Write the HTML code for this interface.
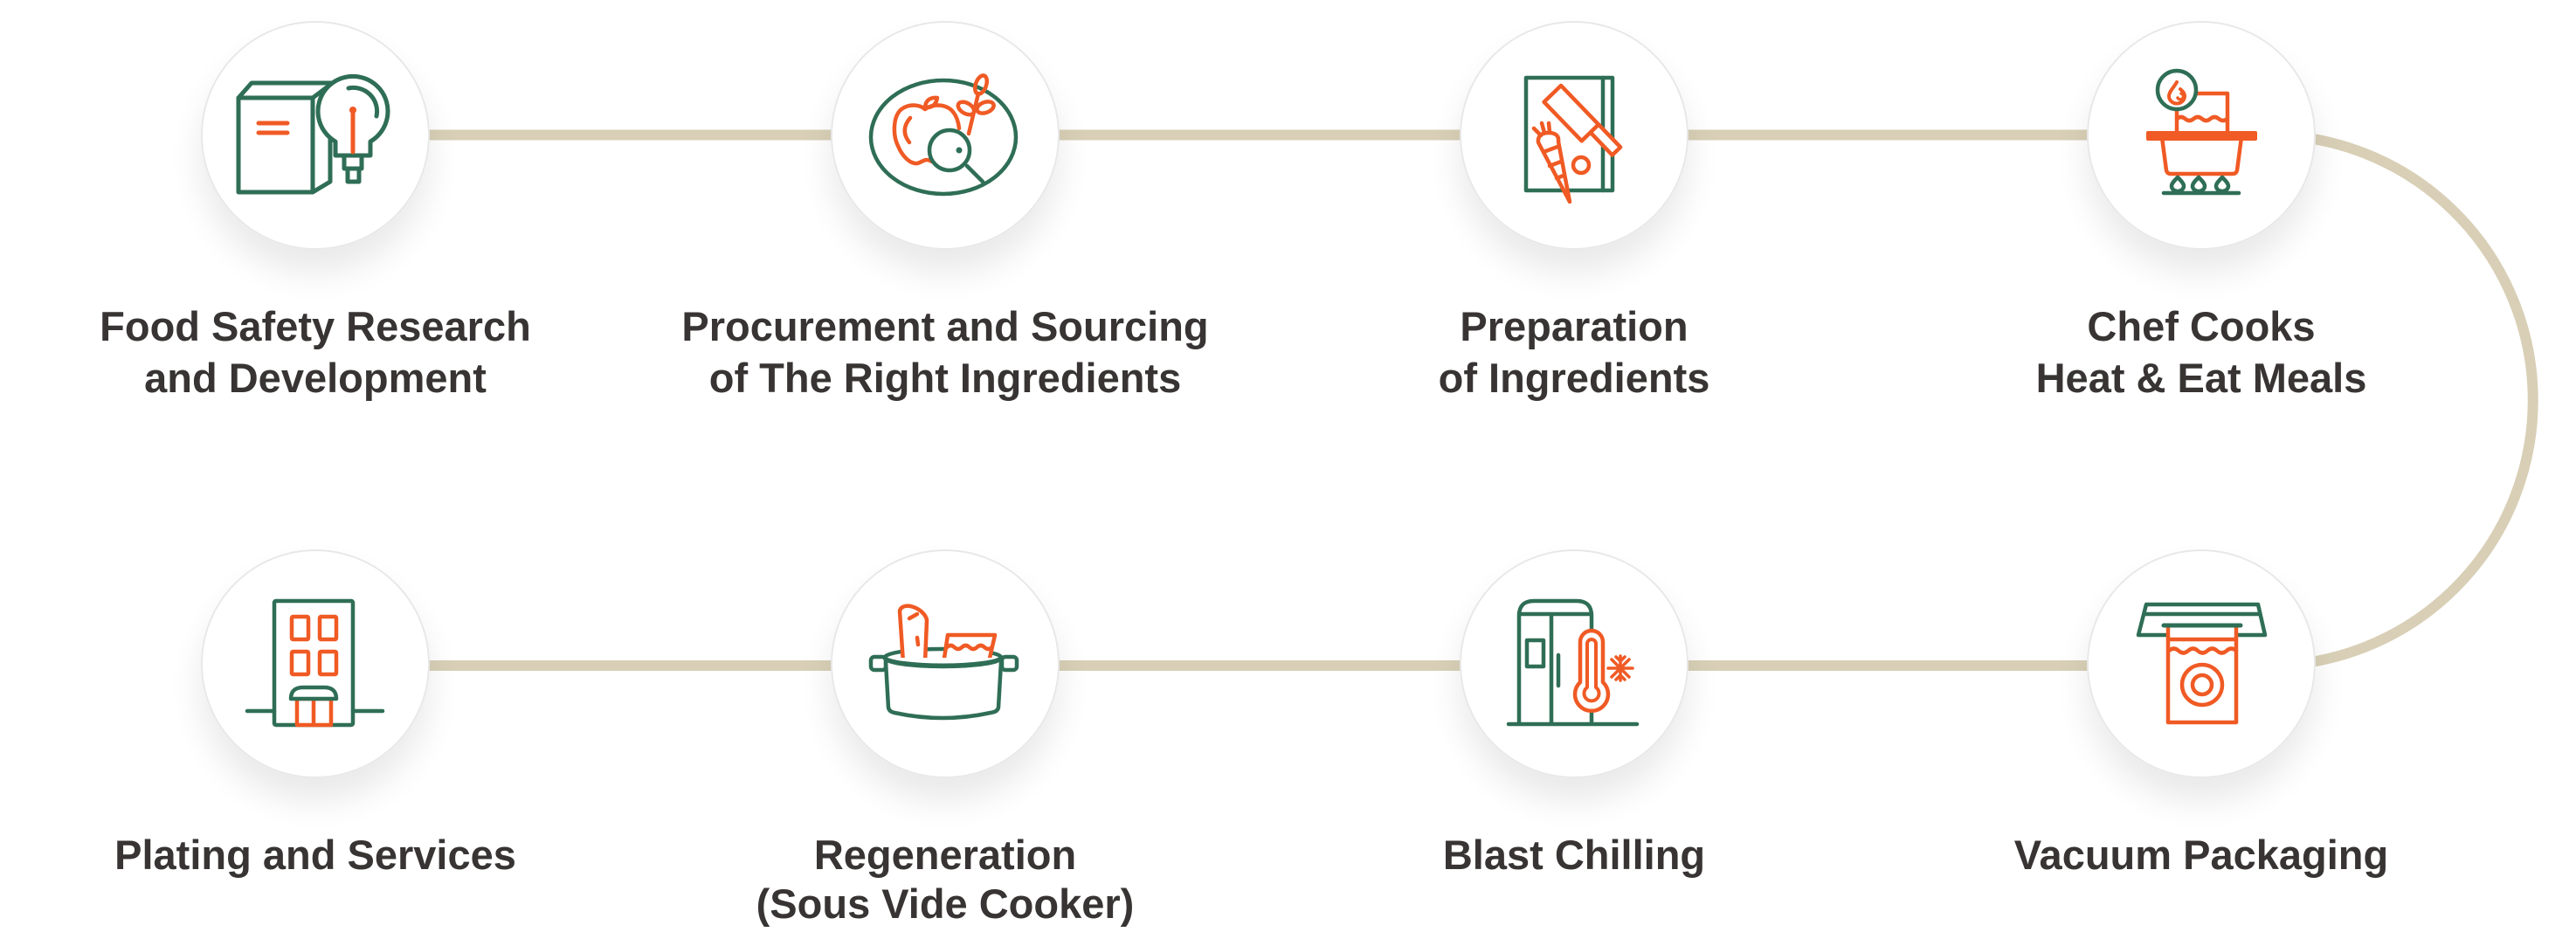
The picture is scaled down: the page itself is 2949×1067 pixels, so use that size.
<!DOCTYPE html>
<html>
<head>
<meta charset="utf-8">
<style>
  html,body{margin:0;padding:0;background:#fff;}
  body{width:2949px;height:1067px;overflow:hidden;}
  svg{display:block;}
  .lbl{font-family:"Liberation Sans",Arial,sans-serif;font-weight:bold;font-size:47px;fill:#383434;}
</style>
</head>
<body>
<svg width="2949" height="1067" viewBox="0 0 2949 1067" xmlns="http://www.w3.org/2000/svg">
  <defs>
    <filter id="sh" x="-60%" y="-60%" width="220%" height="230%">
      <feGaussianBlur in="SourceAlpha" stdDeviation="20"/>
      <feOffset dy="26" result="o"/>
      <feComponentTransfer><feFuncA type="linear" slope="0.09"/></feComponentTransfer>
      <feMerge><feMergeNode/><feMergeNode in="SourceGraphic"/></feMerge>
    </filter>
  </defs>

  <!-- connector -->
  <path d="M361,154.5 H2596 A303.75,303.75 0 0 1 2596,762 H361" fill="none" stroke="#d8cfb6" stroke-width="12"/>

  <!-- circles -->
  <g fill="#fff" stroke="#e8e8e8" stroke-width="2" filter="url(#sh)">
    <circle cx="361" cy="155" r="130"/>
    <circle cx="1082" cy="155" r="130"/>
    <circle cx="1802" cy="155" r="130"/>
    <circle cx="2520" cy="155" r="130"/>
    <circle cx="361" cy="760" r="130"/>
    <circle cx="1082" cy="760" r="130"/>
    <circle cx="1802" cy="760" r="130"/>
    <circle cx="2520" cy="760" r="130"/>
  </g>

  <!-- Icon 1: Food Safety R&D -->
  <g transform="translate(241,35)" fill="none" stroke-linecap="round" stroke-linejoin="round" stroke-width="5">
    <path d="M32,77 L47,60 H140 M117,77 L137,62 M137,120 V173 L117,185" stroke="#2f6e56"/>
    <rect x="32" y="77" width="85" height="108" stroke="#2f6e56"/>
    <path d="M143,143 V127 A40,40 0 1 1 183,127 V143 Z" fill="#fff" stroke="#2f6e56"/>
    <path d="M158,66 A27,27 0 0 1 190,98" stroke="#2f6e56"/>
    <rect x="153" y="143" width="20" height="15" stroke="#2f6e56"/>
    <rect x="157" y="158" width="13" height="15" stroke="#2f6e56"/>
    <path d="M55,106 H88 M55,117 H88 M163,92 V139" stroke="#f05a24"/>
    <circle cx="163" cy="91" r="4" fill="#f05a24" stroke="none"/>
  </g>

  <!-- Icon 2: Procurement -->
  <g transform="translate(962,35)" fill="none" stroke-linecap="round" stroke-linejoin="round" stroke-width="4.5">
    <ellipse cx="118" cy="122" rx="83" ry="65" stroke="#2f6e56"/>
    <path d="M97,90 C90,84 78,84 70,90 C60,98 60,120 66,132 C71,144 80,153 88,152 C93,151 95,148 99,148 C103,148 106,152 110,150" stroke="#f05a24"/>
    <path d="M97,90 C105,84 118,84 126,90 C132,95 135,103 136,112" stroke="#f05a24"/>
    <path d="M80,100 Q68,114 79,128" stroke="#f05a24"/>
    <path d="M97,88 Q98,76 111,77 Q109,89 97,88 Z" stroke="#f05a24"/>
    <path d="M147,118 L158,72" stroke="#f05a24"/>
    <ellipse cx="0" cy="0" rx="6" ry="11" transform="translate(161,62) rotate(20)" stroke="#f05a24"/>
    <ellipse cx="0" cy="0" rx="10" ry="6" transform="translate(144,89) rotate(30)" stroke="#f05a24"/>
    <ellipse cx="0" cy="0" rx="10" ry="6" transform="translate(166,88) rotate(-20)" stroke="#f05a24"/>
    <circle cx="125" cy="137" r="23" fill="#fff" stroke="#2f6e56"/>
    <path d="M145,155 L163,173" stroke="#2f6e56"/>
    <circle cx="136" cy="137" r="3.5" fill="#2f6e56" stroke="none"/>
  </g>

  <!-- Icon 3: Preparation -->
  <g transform="translate(1682,35)" fill="none" stroke-linecap="round" stroke-linejoin="round" stroke-width="4.5">
    <rect x="65" y="54" width="99" height="129" stroke="#2f6e56"/>
    <path d="M153,54 V183" stroke="#2f6e56"/>
    <g transform="translate(105,63) rotate(46)">
      <path d="M0,0 H62 V27 H0 Z" fill="#fff" stroke="#f05a24"/>
      <rect x="62" y="0" width="36" height="13" fill="#fff" stroke="#f05a24"/>
    </g>
    <path d="M79,128 C78,120 84,117 91,117 C98,117 103,120 102,127 L115,196 Z" fill="#fff" stroke="#f05a24"/>
    <path d="M85,139 L101,133 M92,155 L105,150 M100,169 L108,166 M74,112 L82,120 M83,106 L86,117 M91,106 L92,116" stroke="#f05a24"/>
    <circle cx="128" cy="154" r="9" stroke="#f05a24"/>
  </g>

  <!-- Icon 4: Chef Cooks -->
  <g transform="translate(2400,35)" fill="none" stroke-linecap="round" stroke-linejoin="round" stroke-width="4.5">
    <path d="M108,72 H150 V115 M92,88 V115" stroke="#f05a24"/>
    <path d="M92,101 q4.8,-4 9.6,0 t9.6,0 t9.6,0 t9.6,0 t9.6,0 t9.6,0" stroke="#f05a24"/>
    <rect x="57" y="115" width="127" height="11" rx="2" fill="#f05a24" stroke="none"/>
    <path d="M75,122 L80,160 Q81,164 85,164 H156 Q160,164 161,160 L166,122" stroke="#f05a24"/>
    <circle cx="92" cy="68" r="22" fill="#fff" stroke="#2f6e56"/>
    <path d="M92,59 C88,66 83,70 83,75 A9,8.5 0 0 0 101,75 C101,71 98,69 96,67" stroke="#f05a24" stroke-width="4"/>
    <path d="M93,77 a3.5,3.5 0 1 0 4,-5" stroke="#f05a24" stroke-width="3.5"/>
    <g stroke="#2f6e56">
      <path d="M93,168 C89,172 86,175 86,178 A7,6 0 0 0 100,178 C100,175 97,172 93,168 Z"/>
      <path d="M117,168 C113,172 110,175 110,178 A7,6 0 0 0 124,178 C124,175 121,172 117,168 Z"/>
      <path d="M144,168 C140,172 137,175 137,178 A7,6 0 0 0 151,178 C151,175 148,172 144,168 Z"/>
      <path d="M77,186 H163"/>
    </g>
  </g>

  <!-- Icon 5: Plating -->
  <g transform="translate(241,640)" fill="none" stroke-linecap="round" stroke-linejoin="round" stroke-width="4.5">
    <path d="M42,174 H73 M163,174 H197" stroke="#2f6e56"/>
    <rect x="73" y="48" width="90" height="142" rx="2" stroke="#2f6e56"/>
    <rect x="93" y="66" width="19" height="26" rx="1.5" stroke="#f05a24"/>
    <rect x="125" y="66" width="19" height="26" rx="1.5" stroke="#f05a24"/>
    <rect x="93" y="106" width="19" height="26" rx="1.5" stroke="#f05a24"/>
    <rect x="125" y="106" width="19" height="26" rx="1.5" stroke="#f05a24"/>
    <rect x="99" y="160" width="39" height="30" fill="#fff" stroke="#f05a24"/>
    <path d="M118,160 V190" stroke="#f05a24"/>
    <path d="M92,160 Q92,147 106,147 H130 Q144,147 144,160 Z" fill="#fff" stroke="#2f6e56"/>
  </g>

  <!-- Icon 6: Regeneration -->
  <g transform="translate(962,640)" fill="none" stroke-linecap="round" stroke-linejoin="round" stroke-width="4.5">
    <rect x="35" y="112" width="17" height="15" rx="4" stroke="#2f6e56"/>
    <rect x="185" y="112" width="17" height="15" rx="4" stroke="#2f6e56"/>
    <ellipse cx="117.5" cy="113" rx="67" ry="10" stroke="#2f6e56"/>
    <path d="M72,119 L68,60 A17,10 30 0 1 99,70 L97,119" fill="#fff" stroke="#f05a24"/>
    <path d="M79,68 L88,63 M88,90 L89,98" stroke="#f05a24"/>
    <path d="M118,120 L123,87 H177 L170,118" fill="#fff" stroke="#f05a24"/>
    <path d="M122,101 q4.3,-4 8.6,0 t8.6,0 t8.6,0 t8.6,0 t8.6,0 t8.6,0" stroke="#f05a24"/>
    <path d="M51,113 A67,10 0 0 0 184,113" fill="#fff" stroke="#2f6e56"/>
    <path d="M52,118 L55,170 Q56,175 62,176 Q117,188 172,176 Q180,175 181,170 L184,118" stroke="#2f6e56"/>
  </g>

  <!-- Icon 7: Blast Chilling -->
  <g transform="translate(1682,640)" fill="none" stroke-linecap="round" stroke-linejoin="round" stroke-width="4.5">
    <path d="M57,188 V65 Q57,48 74,48 H123 Q140,48 140,65 V188" stroke="#2f6e56"/>
    <path d="M57,63 H140 M94,63 V188 M102,110 V145 M45,189 H192" stroke="#2f6e56"/>
    <rect x="66" y="93" width="19" height="30" stroke="#2f6e56"/>
    <path d="M127,141 V95 A13,13 0 0 1 153,95 V141 A19,19 0 1 1 127,141 Z" fill="#fff" stroke="#f05a24"/>
    <path d="M135,147 V97 A5,5 0 0 1 145,97 V147 A8.5,8.5 0 1 1 135,147 Z" stroke="#f05a24" stroke-width="4"/>
    <path d="M159,125 H187 M173,111 V139 M163,115 L183,135 M183,115 L163,135 M168,112 L173,117 L178,112 M168,138 L173,133 L178,138" stroke="#f05a24" stroke-width="3.5"/>
  </g>

  <!-- Icon 8: Vacuum Packaging -->
  <g transform="translate(2400,640)" fill="none" stroke-linecap="round" stroke-linejoin="round" stroke-width="4.5">
    <path d="M57,52 H185 L193,87 H48 Z" stroke="#2f6e56"/>
    <path d="M55,63 H187" stroke="#2f6e56"/>
    <path d="M82,77 V187 H160 V77" fill="#fff" stroke="#f05a24"/>
    <path d="M82,92 H160" stroke="#f05a24"/>
    <path d="M83,105 q5.5,-5 11,0 t11,0 t11,0 t11,0 t11,0 t11,0 t11,0" stroke="#f05a24"/>
    <circle cx="121" cy="144" r="23" stroke="#f05a24"/>
    <circle cx="121" cy="144" r="11" stroke="#f05a24"/>
    <path d="M77,76 H165" stroke="#2f6e56" stroke-width="5"/>
  </g>

  <!-- Labels -->
  <g class="lbl" text-anchor="middle">
    <text class="lbl" x="361" y="390">Food Safety Research</text>
    <text class="lbl" x="361" y="449">and Development</text>
    <text class="lbl" x="1082" y="390">Procurement and Sourcing</text>
    <text class="lbl" x="1082" y="449">of The Right Ingredients</text>
    <text class="lbl" x="1802" y="390">Preparation</text>
    <text class="lbl" x="1802" y="449">of Ingredients</text>
    <text class="lbl" x="2520" y="390">Chef Cooks</text>
    <text class="lbl" x="2520" y="449">Heat &amp; Eat Meals</text>
    <text class="lbl" x="361" y="995">Plating and Services</text>
    <text class="lbl" x="1082" y="995">Regeneration</text>
    <text class="lbl" x="1082" y="1051">(Sous Vide Cooker)</text>
    <text class="lbl" x="1802" y="995">Blast Chilling</text>
    <text class="lbl" x="2520" y="995">Vacuum Packaging</text>
  </g>
</svg>
</body>
</html>
